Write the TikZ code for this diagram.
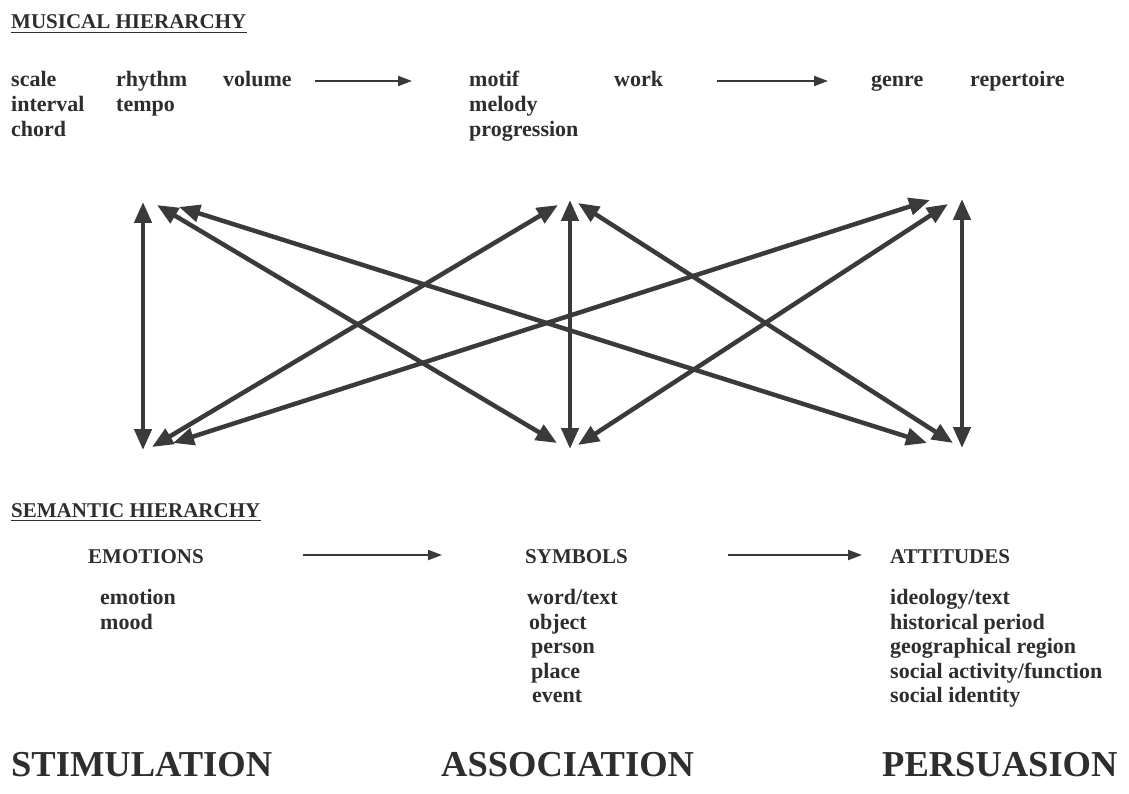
\documentclass[tikz,border=0pt]{standalone}
\usepackage{fontspec}
\setmainfont{Liberation Serif}
\usetikzlibrary{arrows.meta}
\definecolor{ink}{HTML}{2E2E2E}
\definecolor{arr}{HTML}{3A3A3A}
\begin{document}
\begin{tikzpicture}[x=1pt,y=-1pt,
  txt/.style={anchor=base west,inner sep=0pt,text=ink,font=\fontsize{22}{24}\selectfont\bfseries},
  head/.style={txt,font=\fontsize{21}{24}\selectfont\bfseries},
  big/.style={txt,font=\fontsize{36.5}{40}\selectfont\bfseries},
  link/.style={draw=arr,line width=4.5pt,{Triangle[length=21pt,width=17pt]}-{Triangle[length=21pt,width=17pt]}},
  flow/.style={draw=arr,line width=2pt,-{Triangle[length=14pt,width=10pt]}},
  uline/.style={draw=ink,line width=1.3pt}]
\fill[white] (0,0) rectangle (1129,794);
\useasboundingbox (0,0) rectangle (1129,794);

% musical hierarchy
\node[head] (mh) at (11,29) {MUSICAL HIERARCHY};
\draw[uline] ([yshift=-3.5pt]mh.base west) -- ([yshift=-3.5pt]mh.base east);
\node[txt] (scale) at (11,87) {scale};
\node[txt] (interval) at (11,112) {interval};
\node[txt] (chord) at (11,137) {chord};
\node[txt] (rhythm) at (116,87) {rhythm};
\node[txt] (tempo) at (116,112) {tempo};
\node[txt] (volume) at (223,87) {volume};
\node[txt] (motif) at (469,87) {motif};
\node[txt] (melody) at (469,112) {melody};
\node[txt] (progression) at (469,137) {progression};
\node[txt] (work) at (614,87) {work};
\node[txt] (genre) at (871,87) {genre};
\node[txt] (repertoire) at (970,87) {repertoire};
\coordinate (fa1) at (315,81); \coordinate (fb1) at (412,81);
\coordinate (fa2) at (717,81); \coordinate (fb2) at (828,81);
\draw[flow] (fa1) -- (fb1);
\draw[flow] (fa2) -- (fb2);

% cross links
\coordinate (v1t) at (143,202); \coordinate (v1b) at (143,450);
\coordinate (v2t) at (570,200); \coordinate (v2b) at (570,449);
\coordinate (v3t) at (962,199); \coordinate (v3b) at (962,448);
\coordinate (t1a) at (157,205); \coordinate (b2a) at (557,443);
\coordinate (t1b) at (179,207); \coordinate (b3a) at (927,443);
\coordinate (b1a) at (152,447); \coordinate (t2a) at (558,205);
\coordinate (b1b) at (173,443); \coordinate (t3a) at (930,200);
\coordinate (t2b) at (578,203); \coordinate (b3b) at (953,443);
\coordinate (b2b) at (578,445); \coordinate (t3b) at (948,204);
\draw[link] (v1t) -- (v1b);
\draw[link] (v2t) -- (v2b);
\draw[link] (v3t) -- (v3b);
\draw[link] (t1a) -- (b2a);
\draw[link] (t1b) -- (b3a);
\draw[link] (b1a) -- (t2a);
\draw[link] (b1b) -- (t3a);
\draw[link] (t2b) -- (b3b);
\draw[link] (b2b) -- (t3b);

% semantic hierarchy
\node[head] (sh) at (11,517) {SEMANTIC HIERARCHY};
\draw[uline] ([yshift=-3.5pt]sh.base west) -- ([yshift=-3.5pt]sh.base east);
\node[head] (emo) at (88,563) {EMOTIONS};
\node[head] (sym) at (525,563) {SYMBOLS};
\node[head] (att) at (890,563) {ATTITUDES};
\coordinate (ga1) at (303,555); \coordinate (gb1) at (442,555);
\coordinate (ga2) at (728,555); \coordinate (gb2) at (862,555);
\draw[flow] (ga1) -- (gb1);
\draw[flow] (ga2) -- (gb2);
\node[txt] (emotion) at (100,604) {emotion};
\node[txt] (mood) at (100,629) {mood};
\node[txt] (word) at (527,604) {word/text};
\node[txt] (object) at (529,629) {object};
\node[txt] (person) at (531,653) {person};
\node[txt] (place) at (531,678) {place};
\node[txt] (event) at (532,702) {event};
\node[txt] (ideo) at (890,604) {ideology/text};
\node[txt] (hist) at (890,629) {historical period};
\node[txt] (geo) at (890,653) {geographical region};
\node[txt] (soc) at (890,678) {social activity/function};
\node[txt] (ident) at (890,702) {social identity};

% bottom labels
\node[big] (stim) at (11,776) {STIMULATION};
\node[big] (assoc) at (441,776) {ASSOCIATION};
\node[big] (pers) at (882,776) {PERSUASION};
\end{tikzpicture}
\end{document}
